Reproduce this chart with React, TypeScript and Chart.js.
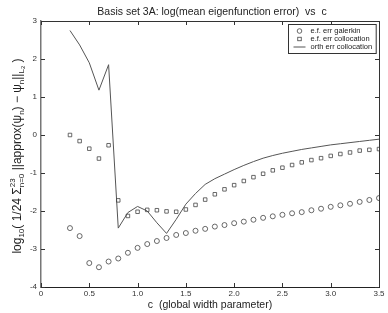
import React, { useEffect, useRef } from "react";
import { Chart, registerables } from "chart.js";

Chart.register(...registerables);

const TITLE = "Basis set 3A: log(mean eigenfunction error)  vs  c";
const X_TITLE = "c  (global width parameter)";
const LABEL_GALERKIN = "e.f. err galerkin";
const LABEL_COLLOC = "e.f. err collocation";
const LABEL_ORTH = "orth err collocation";

const cValues = [
  0.3, 0.4, 0.5, 0.6, 0.7, 0.8, 0.9, 1.0, 1.1, 1.2, 1.3, 1.4, 1.5, 1.6, 1.7, 1.8, 1.9,
  2.0, 2.1, 2.2, 2.3, 2.4, 2.5, 2.6, 2.7, 2.8, 2.9, 3.0, 3.1, 3.2, 3.3, 3.4, 3.5,
];

const galerkinErr = [
  -2.45, -2.66, -3.37, -3.48, -3.33, -3.25, -3.1, -2.97, -2.87, -2.79, -2.71, -2.63, -2.58,
  -2.52, -2.47, -2.41, -2.37, -2.32, -2.28, -2.23, -2.18, -2.14, -2.1, -2.06, -2.03, -1.98,
  -1.94, -1.89, -1.85, -1.81, -1.76, -1.71, -1.66,
];

const collocErr = [
  0.0, -0.16, -0.36, -0.62, -0.27, -1.72, -2.13, -2.02, -1.97, -1.98, -2.01, -2.02, -1.96,
  -1.84, -1.7, -1.56, -1.43, -1.32, -1.21, -1.11, -1.02, -0.93, -0.86, -0.79, -0.72, -0.66,
  -0.61, -0.55, -0.5, -0.46, -0.41, -0.39, -0.37,
];

const orthErr = [
  2.75, 2.37, 1.9, 1.18, 1.85, -2.45, -2.04, -1.88, -2.0, -2.31, -2.59, -2.22, -1.82, -1.54,
  -1.3, -1.15, -1.03, -0.91, -0.8, -0.7, -0.61, -0.54, -0.48, -0.43, -0.38, -0.34, -0.3,
  -0.26, -0.23, -0.2, -0.17, -0.14, -0.11,
];

const X_MIN = 0;
const X_MAX = 3.5;
const X_STEP = 0.5;
const Y_MIN = -4;
const Y_MAX = 3;
const Y_STEP = 1;

// y axis title pieces: [text, fontSize, baseline shift]
const Y_TITLE_PARTS: Array<any> = [
  ["log", 12, 0],
  ["10", 8, 3.5],
  ["( 1/24 ", 12, 0],
  ["Σ", 12, 0],
  [["23", 8, -5], ["n=0", 8, 3.5]],
  [" ||approx(ψ", 12, 0],
  ["n", 8, 3.5],
  [") − ψ", 12, 0],
  ["n", 8, 3.5],
  ["||", 12, 0],
  ["L", 8, 3.5],
  ["2", 6, 5.5],
  [" )", 12, 0],
];

const FONT = "'Liberation Sans', Arial, Helvetica, sans-serif";
const INK = "#222";

const framePlugin = {
  id: "matlabFrame",
  afterDraw(chart: any) {
    const { ctx, chartArea } = chart;
    const { left, right, top, bottom } = chartArea;
    const xs = chart.scales.x;
    const ys = chart.scales.y;
    ctx.save();
    // title
    ctx.fillStyle = INK;
    ctx.font = `10.5px ${FONT}`;
    ctx.textAlign = "center";
    ctx.textBaseline = "middle";
    ctx.fillText(TITLE, (left + right) / 2 + 2, 12);

    // box top & right
    ctx.strokeStyle = "#333";
    ctx.lineWidth = 1;
    ctx.beginPath();
    ctx.moveTo(left, top + 0.5);
    ctx.lineTo(right + 0.5, top + 0.5);
    ctx.lineTo(right + 0.5, bottom);
    ctx.stroke();
    // inward ticks
    const tl = 4;
    ctx.beginPath();
    xs.ticks.forEach((t: any) => {
      const px = Math.round(xs.getPixelForValue(t.value)) + 0.5;
      ctx.moveTo(px, bottom);
      ctx.lineTo(px, bottom - tl);
      ctx.moveTo(px, top);
      ctx.lineTo(px, top + tl);
    });
    ys.ticks.forEach((t: any) => {
      const py = Math.round(ys.getPixelForValue(t.value)) + 0.5;
      ctx.moveTo(left, py);
      ctx.lineTo(left + tl, py);
      ctx.moveTo(right, py);
      ctx.lineTo(right - tl, py);
    });
    ctx.stroke();

    // legend
    const ds = chart.data.datasets;
    const fs = 7.5;
    ctx.font = `${fs}px ${FONT}`;
    let maxW = 0;
    ds.forEach((d: any) => {
      maxW = Math.max(maxW, ctx.measureText(d.label).width);
    });
    const boxW = 22 + maxW + 4;
    const rowH = 8;
    const boxH = rowH * ds.length + 5;
    const bx = Math.round(right - 3 - boxW) + 0.5;
    const by = Math.round(top + 3) + 0.5;
    ctx.fillStyle = "#fff";
    ctx.fillRect(bx, by, boxW, boxH);
    ctx.strokeStyle = "#333";
    ctx.strokeRect(bx, by, boxW, boxH);
    ds.forEach((d: any, i: number) => {
      const cy = by + 2.5 + rowH * i + rowH / 2;
      const mx = bx + 11;
      ctx.strokeStyle = "#444";
      ctx.lineWidth = 0.8;
      if (d.showLine) {
        ctx.lineWidth = 1;
        ctx.strokeStyle = "#555";
        ctx.beginPath();
        ctx.moveTo(mx - 6, cy);
        ctx.lineTo(mx + 6, cy);
        ctx.stroke();
      } else if (d.pointStyle === "rect") {
        ctx.strokeRect(mx - 1.75, cy - 1.75, 3.5, 3.5);
      } else {
        ctx.beginPath();
        ctx.arc(mx, cy, 2.3, 0, Math.PI * 2);
        ctx.stroke();
      }
      ctx.fillStyle = INK;
      ctx.textBaseline = "middle";
      ctx.textAlign = "left";
      ctx.fillText(d.label, bx + 22, cy);
    });

    // y axis title (rotated, with sub/superscripts)
    const measure = (p: any) => {
      ctx.font = `${p[1]}px ${FONT}`;
      return ctx.measureText(p[0]).width;
    };
    let total = 0;
    Y_TITLE_PARTS.forEach((p: any) => {
      if (Array.isArray(p[0])) total += Math.max(...p.map(measure));
      else total += measure(p);
    });
    const cx = 18;
    const cyMid = (top + bottom) / 2 + 2;
    ctx.translate(cx, cyMid);
    ctx.rotate(-Math.PI / 2);
    ctx.fillStyle = INK;
    ctx.textAlign = "left";
    ctx.textBaseline = "middle";
    let x = -total / 2;
    const draw = (p: any, atX: number) => {
      ctx.font = `${p[1]}px ${FONT}`;
      ctx.fillText(p[0], atX, p[2]);
    };
    Y_TITLE_PARTS.forEach((p: any) => {
      if (Array.isArray(p[0])) {
        p.forEach((q: any) => draw(q, x));
        x += Math.max(...p.map(measure));
      } else {
        draw(p, x);
        x += measure(p);
      }
    });
    ctx.restore();
  },
};

export default function App() {
  const ref = useRef<HTMLCanvasElement | null>(null);
  useEffect(() => {
    document.body.style.margin = "0";
    if (!ref.current) return;
    const pts = (ys: number[]) => cValues.map((c, i) => ({ x: c, y: ys[i] }));
    const chart = new Chart(ref.current, {
      type: "scatter",
      data: {
        datasets: [
          {
            label: LABEL_GALERKIN,
            data: pts(galerkinErr),
            pointStyle: "circle",
            pointRadius: 2.5,
            backgroundColor: "rgba(0,0,0,0)",
            borderColor: "#444",
            borderWidth: 0.8,
            showLine: false,
          },
          {
            label: LABEL_COLLOC,
            data: pts(collocErr),
            pointStyle: "rect",
            pointRadius: 2.5,
            backgroundColor: "rgba(0,0,0,0)",
            borderColor: "#444",
            borderWidth: 0.8,
            showLine: false,
          },
          {
            label: LABEL_ORTH,
            data: pts(orthErr),
            showLine: true,
            pointRadius: 0,
            borderColor: "#555",
            borderWidth: 1,
            tension: 0,
            backgroundColor: "rgba(0,0,0,0)",
          },
        ],
      },
      options: {
        responsive: false,
        animation: false,
        layout: { padding: { left: 0, right: 9, top: 21, bottom: 0 } },
        plugins: {
          legend: { display: false },
          tooltip: { enabled: false },
          title: { display: false },
        },
        scales: {
          x: {
            type: "linear",
            min: X_MIN,
            max: X_MAX,
            afterFit: (s: any) => {
              s.height = 26;
            },
            ticks: {
              stepSize: X_STEP,
              color: "#333",
              font: { family: FONT, size: 8 },
              padding: 2,
              maxRotation: 0,
            },
            grid: { drawOnChartArea: false, drawTicks: false },
            border: { display: true, color: "#222", width: 1 },
            title: {
              display: true,
              text: X_TITLE,
              color: INK,
              font: { family: FONT, size: 10.5 },
              padding: { top: 0, bottom: 2 },
            },
          },
          y: {
            type: "linear",
            min: Y_MIN,
            max: Y_MAX,
            afterFit: (s: any) => {
              s.width = 41;
            },
            ticks: {
              stepSize: Y_STEP,
              color: "#333",
              font: { family: FONT, size: 8 },
              padding: 4,
            },
            grid: { drawOnChartArea: false, drawTicks: false },
            border: { display: true, color: "#777", width: 1.5 },
          },
        },
      },
      plugins: [framePlugin],
    });
    return () => chart.destroy();
  }, []);
  return (
    <div style={{ width: 388, height: 313, background: "#fff" }}>
      <canvas ref={ref} width={388} height={313} style={{ width: 388, height: 313, display: "block" }} />
    </div>
  );
}
